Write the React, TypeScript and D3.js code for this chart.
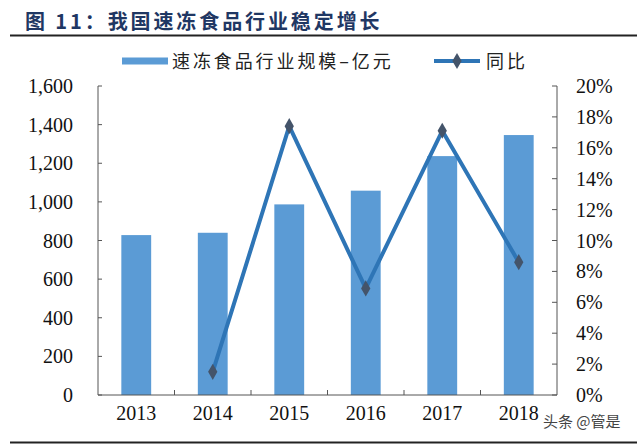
import React from 'react';
import * as d3 from 'd3';

// chart data
const years = ['2013', '2014', '2015', '2016', '2017', '2018'];
const scaleValues = [828, 840, 987, 1058, 1237, 1346]; // 亿元
const growthYears = ['2014', '2015', '2016', '2017', '2018'];
const growthValues = [1.5, 17.4, 6.9, 17.1, 8.6]; // %
const leftTicks = [0, 200, 400, 600, 800, 1000, 1200, 1400, 1600];
const rightTicks = [0, 2, 4, 6, 8, 10, 12, 14, 16, 18, 20];

const W = 640;
const H = 445;
const margin = { top: 86, right: 83, bottom: 50, left: 98 };
const plotW = 557 - margin.left;
const plotH = 395 - margin.top;

const serif = '"Liberation Serif", "Times New Roman", serif';
const cjk = '"Noto Sans CJK SC", "Noto Sans", sans-serif';

const App = () => {
  const x = d3.scaleBand().domain(years).range([0, plotW]).paddingInner(0.61).paddingOuter(0.305);
  const yL = d3.scaleLinear().domain([0, 1600]).range([plotH, 0]);
  const yR = d3.scaleLinear().domain([0, 20]).range([plotH, 0]);
  const cx = (d) => (x(d) as number) + x.bandwidth() / 2;
  const step = plotW / years.length;

  const line = d3.line<number>()
    .x((_, i) => cx(growthYears[i]))
    .y((d) => yR(d));

  const diamond = d3.symbol().type(d3.symbolDiamond).size(75)();
  const fmt = d3.format(',');

  return (
    <svg width={W} height={H} style={{ position: 'absolute', left: 0, top: 0, background: '#fff' }}>
      {/* title */}
      <text x={25} y={29} fontFamily={cjk} fontWeight="bold" fontSize={20} fill="#1f3763" letterSpacing={2.9}>
        图 11：我国速冻食品行业稳定增长
      </text>
      <line x1={10} x2={637} y1={35.5} y2={35.5} stroke="#222" strokeWidth={2} />

      {/* legend */}
      <rect x={122} y={57.5} width={46} height={7} fill="#5b9bd5" />
      <text x={172} y={68} fontFamily={cjk} fontSize={18} letterSpacing={2.9} fill="#222">速冻食品行业规模–亿元</text>
      <line x1={434} x2={480} y1={61} y2={61} stroke="#2e75b6" strokeWidth={4} />
      <path d={diamond} transform="translate(457,61)" fill="#44546a" />
      <text x={486} y={68} fontFamily={cjk} fontSize={18} letterSpacing={2.9} fill="#222">同比</text>

      <g transform={`translate(${margin.left},${margin.top})`}>
        {/* bars */}
        {years.map((yr, i) => (
          <rect key={yr} x={x(yr)} y={yL(scaleValues[i])} width={x.bandwidth()} height={plotH - yL(scaleValues[i])} fill="#5b9bd5" />
        ))}

        {/* axes */}
        <line x1={0} x2={0} y1={0} y2={plotH} stroke="#555" />
        <line x1={plotW} x2={plotW} y1={0} y2={plotH} stroke="#555" />
        <line x1={0} x2={plotW} y1={plotH} y2={plotH} stroke="#555" />
        {leftTicks.map((t) => (
          <g key={'l' + t}>
            <line x1={0} x2={4} y1={yL(t)} y2={yL(t)} stroke="#555" />
            <text x={-25} y={yL(t)} dy="0.35em" textAnchor="end" fontFamily={serif} fontSize={20} fill="#111">{fmt(t)}</text>
          </g>
        ))}
        {rightTicks.map((t) => (
          <g key={'r' + t}>
            <line x1={plotW - 5} x2={plotW} y1={yR(t)} y2={yR(t)} stroke="#555" />
            <text x={plotW + 19} y={yR(t)} dy="0.35em" fontFamily={serif} fontSize={20} fill="#111">{t}%</text>
          </g>
        ))}
        {years.slice(1).map((yr, i) => (
          <line key={'x' + yr} x1={step * (i + 1)} x2={step * (i + 1)} y1={plotH - 5} y2={plotH} stroke="#555" />
        ))}
        {years.map((yr) => (
          <text key={'xl' + yr} x={cx(yr)} y={plotH + 25} textAnchor="middle" fontFamily={serif} fontSize={20} fill="#111">{yr}</text>
        ))}

        {/* growth line */}
        <path d={line(growthValues) as string} fill="none" stroke="#2e75b6" strokeWidth={4} strokeLinejoin="round" />
        {growthValues.map((v, i) => (
          <path key={'m' + i} d={diamond} transform={`translate(${cx(growthYears[i])},${yR(v)})`} fill="#44546a" />
        ))}
      </g>

      {/* watermark */}
      <text x={543} y={427} fontFamily={cjk} fontSize={15} fill="#444">头条 @管是</text>
      <line x1={10} x2={637} y1={442.5} y2={442.5} stroke="#222" strokeWidth={2} />
    </svg>
  );
};

export default App;
